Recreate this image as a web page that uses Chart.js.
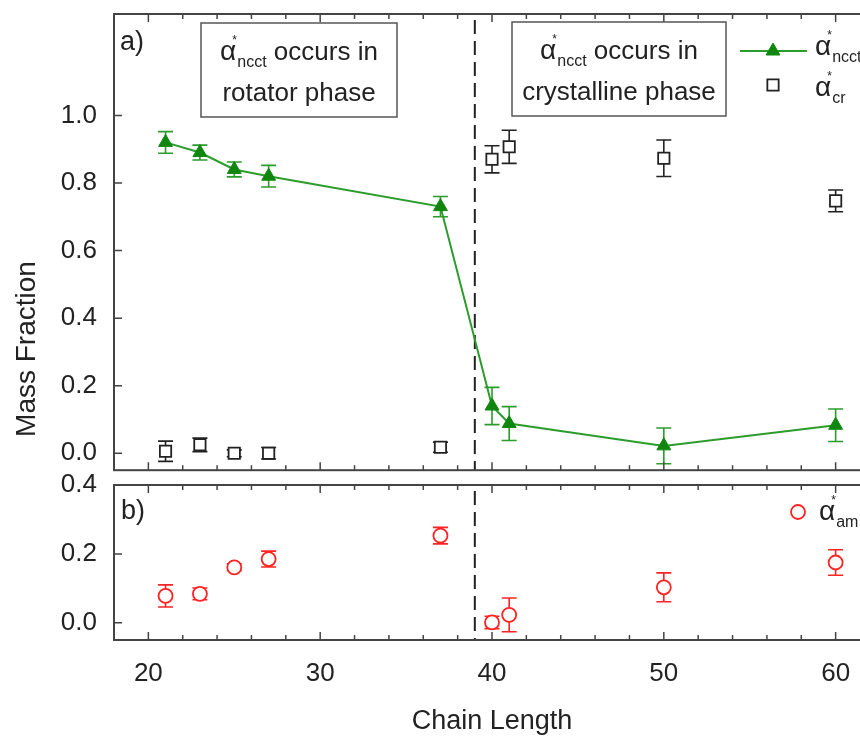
<!DOCTYPE html>
<html lang="en">
<head>
    <meta charset="UTF-8">
    <title>Mass fraction vs chain length</title>
    <script src="https://cdn.jsdelivr.net/npm/chart.js"></script>
    <style>
        html, body { margin: 0; padding: 0; background: #fff; overflow: hidden; }
        #wrap { position: relative; width: 860px; height: 739px; overflow: hidden; }
        canvas { position: absolute; left: 0; }
        #topChart { top: 0; }
        #bottomChart { top: 440px; }
    </style>
</head>
<body>
<div id="wrap">
    <canvas id="topChart" width="880" height="480"></canvas>
    <canvas id="bottomChart" width="880" height="299"></canvas>
</div>
<script>
    // data
    const chainLength = [21, 23, 25, 27, 37, 40, 41, 50, 60];
    const ncctFrac = [0.92, 0.89, 0.84, 0.82, 0.73, 0.14, 0.088, 0.022, 0.083];
    const ncctErr  = [0.032, 0.022, 0.022, 0.032, 0.03, 0.055, 0.05, 0.053, 0.048];
    const crFrac   = [0.006, 0.025, 0.0, 0.0, 0.018, 0.87, 0.907, 0.873, 0.747];
    const crErr    = [0.03, 0.02, 0.01, 0.017, 0.015, 0.04, 0.049, 0.054, 0.032];
    const amFrac   = [0.078, 0.084, 0.161, 0.185, 0.253, 0.001, 0.023, 0.103, 0.175];
    const amErr    = [0.032, 0.017, 0.01, 0.023, 0.024, 0.018, 0.049, 0.042, 0.037];

    const xTicks = [20, 30, 40, 50, 60];
    const topYTicks = [0, 0.2, 0.4, 0.6, 0.8, 1.0];
    const bottomYTicks = [0, 0.2, 0.4];
    const phaseBoundary = 39;

    const FONT = '"Liberation Sans", Arial, sans-serif';
    const GREEN = '#0f870f';
    const GREEN_LINE = '#2c9c2c';
    const RED = '#ff2323';
    const INK = '#222';

    function points(ys) {
        return chainLength.map((x, i) => ({ x: x, y: ys[i] }));
    }

    function alphaWidth(ctx, sub, fs) {
        ctx.font = (fs + 2) + 'px ' + FONT;
        const wa = ctx.measureText('α').width;
        ctx.font = Math.round(fs * 0.63) + 'px ' + FONT;
        return wa + 1 + ctx.measureText(sub).width;
    }

    // α with a small * on top and a subscript
    function drawAlpha(ctx, x, base, sub, fs) {
        ctx.textAlign = 'left';
        ctx.textBaseline = 'alphabetic';
        ctx.font = (fs + 2) + 'px ' + FONT;
        const wa = ctx.measureText('α').width;
        ctx.fillText('α', x, base);
        ctx.font = Math.round(fs * 0.45) + 'px ' + FONT;
        ctx.fillText('*', x + wa * 0.75, base - fs * 0.6);
        ctx.font = Math.round(fs * 0.63) + 'px ' + FONT;
        ctx.fillText(sub, x + wa + 1, base + fs * 0.28);
        return wa + 1 + ctx.measureText(sub).width;
    }

    function textBox(ctx, left, top, w, h, sub, line2) {
        const fs = 26;
        ctx.save();
        ctx.fillStyle = '#fff';
        ctx.fillRect(left, top, w, h);
        ctx.strokeStyle = '#555';
        ctx.lineWidth = 1.5;
        ctx.strokeRect(left, top, w, h);
        ctx.fillStyle = INK;
        const cx = left + w / 2;
        const rest = ' occurs in';
        let total = alphaWidth(ctx, sub, fs);
        ctx.font = fs + 'px ' + FONT;
        total += ctx.measureText(rest).width;
        let x = cx - total / 2;
        x += drawAlpha(ctx, x, top + 37, sub, fs);
        ctx.font = fs + 'px ' + FONT;
        ctx.fillText(rest, x, top + 37);
        ctx.textAlign = 'center';
        ctx.fillText(line2, cx, top + 78);
        ctx.restore();
    }

    // frame, inward ticks, dashed phase line and error bars
    const framePlugin = {
        id: 'frame',
        beforeDatasetsDraw(chart) {
            const { ctx, chartArea: a, scales: { x, y } } = chart;
            ctx.save();
            ctx.strokeStyle = INK;
            ctx.lineWidth = 2;
            ctx.setLineDash([14, 7]);
            const bx = x.getPixelForValue(phaseBoundary);
            ctx.beginPath();
            ctx.moveTo(bx, a.top + 6);
            ctx.lineTo(bx, a.bottom);
            ctx.stroke();
            ctx.setLineDash([]);
            chart.data.datasets.forEach(ds => {
                if (!ds.errors) return;
                ctx.strokeStyle = ds.errorColor;
                ctx.lineWidth = 1.6;
                ctx.beginPath();
                ds.data.forEach((p, i) => {
                    const px = x.getPixelForValue(p.x);
                    const hi = y.getPixelForValue(p.y + ds.errors[i]);
                    const lo = y.getPixelForValue(p.y - ds.errors[i]);
                    ctx.moveTo(px, hi); ctx.lineTo(px, lo);
                    ctx.moveTo(px - 7.5, hi); ctx.lineTo(px + 7.5, hi);
                    ctx.moveTo(px - 7.5, lo); ctx.lineTo(px + 7.5, lo);
                });
                ctx.stroke();
            });
            ctx.restore();
        },
        afterDraw(chart) {
            const { ctx, chartArea: a, scales: { x, y } } = chart;
            ctx.save();
            ctx.strokeStyle = '#444';
            ctx.lineWidth = 2;
            ctx.strokeRect(a.left, a.top, a.right - a.left, a.bottom - a.top);
            ctx.lineWidth = 1.5;
            ctx.beginPath();
            for (let v = 20; v <= x.max; v += 2) {
                const px = x.getPixelForValue(v);
                const len = v % 10 === 0 ? 8 : 5;
                ctx.moveTo(px, a.bottom); ctx.lineTo(px, a.bottom - len);
                ctx.moveTo(px, a.top); ctx.lineTo(px, a.top + len);
            }
            y.ticks.forEach(t => {
                const py = y.getPixelForValue(t.value);
                ctx.moveTo(a.left, py); ctx.lineTo(a.left + 8, py);
                ctx.moveTo(a.right, py); ctx.lineTo(a.right - 8, py);
            });
            ctx.stroke();
            ctx.restore();
        }
    };

    const topNotes = {
        id: 'topNotes',
        afterDraw(chart) {
            const ctx = chart.ctx;
            ctx.save();
            ctx.fillStyle = INK;
            ctx.font = '27px ' + FONT;
            ctx.textAlign = 'left';
            ctx.fillText('a)', 120, 50);

            textBox(ctx, 201, 23, 196, 94, 'ncct', 'rotator phase');
            textBox(ctx, 512, 22, 214, 94, 'ncct', 'crystalline phase');

            // legend
            ctx.strokeStyle = GREEN_LINE;
            ctx.lineWidth = 2;
            ctx.beginPath();
            ctx.moveTo(740, 51); ctx.lineTo(807, 51);
            ctx.stroke();
            ctx.fillStyle = GREEN; ctx.strokeStyle = GREEN; ctx.lineWidth = 1;
            Chart.helpers.drawPoint(ctx, { pointStyle: 'triangle', radius: 8, borderWidth: 1 }, 773, 51);
            ctx.fillStyle = '#fff'; ctx.strokeStyle = INK; ctx.lineWidth = 1.8;
            Chart.helpers.drawPoint(ctx, { pointStyle: 'rect', radius: 8, borderWidth: 1.8 }, 773, 85);
            ctx.fillStyle = INK;
            drawAlpha(ctx, 815, 55, 'ncct', 26);
            drawAlpha(ctx, 815, 96, 'cr', 26);

            // y axis title, centred across both panels
            ctx.translate(35, 349);
            ctx.rotate(-Math.PI / 2);
            ctx.font = '28px ' + FONT;
            ctx.textAlign = 'center';
            ctx.textBaseline = 'alphabetic';
            ctx.fillText('Mass Fraction', 0, 0);
            ctx.restore();
        }
    };

    const bottomNotes = {
        id: 'bottomNotes',
        afterDraw(chart) {
            const ctx = chart.ctx;
            ctx.save();
            ctx.fillStyle = INK;
            ctx.font = '27px ' + FONT;
            ctx.textAlign = 'left';
            ctx.fillText('b)', 121, 519 - 440);
            ctx.fillStyle = '#fff'; ctx.strokeStyle = RED; ctx.lineWidth = 1.8;
            Chart.helpers.drawPoint(ctx, { pointStyle: 'circle', radius: 7, borderWidth: 1.8 }, 798, 512 - 440);
            ctx.fillStyle = INK;
            drawAlpha(ctx, 819, 520 - 440, 'am', 26);
            ctx.restore();
        }
    };

    const tickFont = { family: FONT, size: 26 };

    function yScale(min, max, ticks) {
        return {
            type: 'linear', min: min, max: max,
            grid: { display: false, drawTicks: false },
            border: { display: false },
            ticks: { padding: 17, color: INK, font: tickFont, callback: v => v.toFixed(1) },
            afterBuildTicks: s => { s.ticks = ticks.map(v => ({ value: v })); },
            afterFit: s => { s.width = 114; s.paddingTop = 0; s.paddingBottom = 0; }
        };
    }

    const baseOptions = {
        responsive: false,
        animation: false,
        events: [],
        plugins: { legend: { display: false }, tooltip: { enabled: false } }
    };

    new Chart(document.getElementById('topChart'), {
        type: 'scatter',
        data: {
            datasets: [{
                label: 'ncct',
                data: points(ncctFrac),
                errors: ncctErr,
                errorColor: GREEN_LINE,
                showLine: true,
                borderColor: GREEN_LINE,
                borderWidth: 2,
                pointStyle: 'triangle',
                pointRadius: 8,
                pointBackgroundColor: GREEN,
                pointBorderColor: GREEN,
                pointBorderWidth: 1
            }, {
                label: 'cr',
                data: points(crFrac),
                errors: crErr,
                errorColor: INK,
                pointStyle: 'rect',
                pointRadius: 8,
                pointBackgroundColor: '#fff',
                pointBorderColor: INK,
                pointBorderWidth: 1.8
            }]
        },
        options: Object.assign({}, baseOptions, {
            layout: { padding: { top: 14, right: 10, bottom: 0, left: 0 } },
            scales: {
                x: {
                    type: 'linear', min: 18, max: 62,
                    grid: { display: false, drawTicks: false },
                    border: { display: false },
                    ticks: { display: false },
                    afterBuildTicks: s => { s.ticks = xTicks.map(v => ({ value: v })); },
                    afterFit: s => { s.height = 9; }
                },
                y: yScale(-0.05, 1.3, topYTicks)
            }
        }),
        plugins: [framePlugin, topNotes]
    });

    new Chart(document.getElementById('bottomChart'), {
        type: 'scatter',
        data: {
            datasets: [{
                label: 'am',
                data: points(amFrac),
                errors: amErr,
                errorColor: RED,
                pointStyle: 'circle',
                pointRadius: 7,
                pointBackgroundColor: '#fff',
                pointBorderColor: RED,
                pointBorderWidth: 1.8
            }]
        },
        options: Object.assign({}, baseOptions, {
            layout: { padding: { top: 45, right: 10, bottom: 0, left: 0 } },
            scales: {
                x: {
                    type: 'linear', min: 18, max: 62,
                    grid: { display: false, drawTicks: false },
                    border: { display: false },
                    ticks: { padding: 18, color: INK, font: tickFont, maxRotation: 0, autoSkip: false },
                    title: { display: true, text: 'Chain Length', color: INK, font: { family: FONT, size: 27 }, padding: { top: 0, bottom: 1 } },
                    afterBuildTicks: s => { s.ticks = xTicks.map(v => ({ value: v })); },
                    afterFit: s => { s.height = 99; }
                },
                y: yScale(-0.05, 0.4, bottomYTicks)
            }
        }),
        plugins: [framePlugin, bottomNotes]
    });
</script>
</body>
</html>
